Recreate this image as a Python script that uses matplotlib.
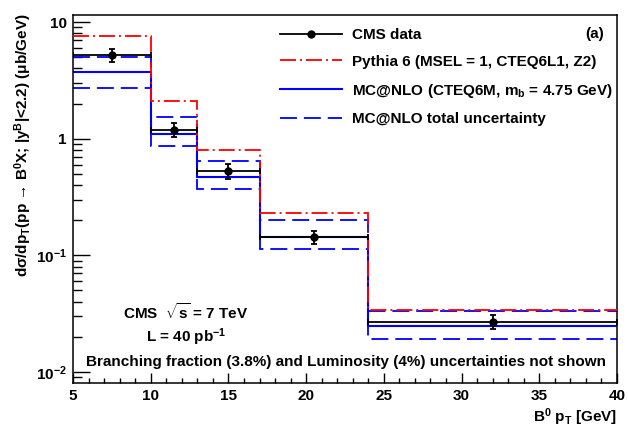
import matplotlib
matplotlib.use("Agg")
import matplotlib.pyplot as plt
from matplotlib.lines import Line2D
import numpy as np

# B0 pT bins and cross sections (micro-barn / GeV)
bin_edges = [5, 10, 13, 17, 24, 40]
pt_points = [7.5, 11.5, 15, 20.5, 32]
cms_data = [5.2, 1.19, 0.53, 0.144, 0.027]
cms_err = [0.7, 0.16, 0.075, 0.019, 0.0038]
pythia6 = [7.6, 2.1, 0.80, 0.232, 0.0343]
mcnlo = [3.73, 1.10, 0.472, 0.143, 0.0250]
mcnlo_up = [5.0, 1.52, 0.648, 0.201, 0.0336]
mcnlo_down = [2.70, 0.866, 0.371, 0.1135, 0.0191]

plt.rcParams['font.family'] = ['Liberation Sans', 'DejaVu Sans']
plt.rcParams['font.weight'] = 'bold'
plt.rcParams['mathtext.fontset'] = 'custom'
plt.rcParams['mathtext.rm'] = 'Liberation Sans:bold'
plt.rcParams['mathtext.it'] = 'Liberation Sans:bold'
plt.rcParams['mathtext.bf'] = 'Liberation Sans:bold'
plt.rcParams['mathtext.sf'] = 'Liberation Sans:bold'
plt.rcParams['mathtext.default'] = 'rm'
plt.rcParams['lines.scale_dashes'] = False

FS = 11
W, H = 628, 429
fig = plt.figure(figsize=(W / 100, H / 100), dpi=100)
L, R, T, B = 73, 617, 14.7, 383
ax = fig.add_axes([L / W, 1 - B / H, (R - L) / W, (B - T) / H])

red = (1, 0, 0)
blue = (0, 0, 1)
dashdot = (0, (11.5, 2.9, 1.4, 2.9))
dashed = (0, (12.2, 5.0))

edges = np.array(bin_edges, dtype=float)
ax.stairs(pythia6, edges, baseline=None, color=red, lw=1.3, linestyle=dashdot, zorder=3)
ax.stairs(mcnlo_up, edges, baseline=None, color=blue, lw=1.3, linestyle=dashed, zorder=2)
ax.stairs(mcnlo_down, edges, baseline=None, color=blue, lw=1.3, linestyle=dashed, zorder=2)
ax.stairs(mcnlo, edges, baseline=None, color=blue, lw=1.5, zorder=2)

x = np.array(pt_points)
xerr = np.vstack([x - edges[:-1], edges[1:] - x])
ax.errorbar(x, cms_data, yerr=cms_err, xerr=xerr, fmt='o', color='black',
            ms=5, lw=1.3, elinewidth=1.3, capsize=2, capthick=1.3, zorder=5)

ax.set_yscale('log')
ax.set_xlim(5, 40)
ax.set_ylim(0.00805, 11.55)

ax.set_yticks([0.01, 0.1, 1, 10])
ax.set_yticklabels([r'10$^{-2}$', r'10$^{-1}$', '1', '10'])
ax.set_xticks([5, 10, 15, 20, 25, 30, 35, 40])
ax.set_xticks(np.arange(5, 41, 1), minor=True)
ax.tick_params(axis='both', which='both', direction='in', top=False, right=False,
               labelsize=FS, width=1.0)
ax.tick_params(axis='y', which='major', length=12.5, pad=4.5)
ax.tick_params(axis='y', which='minor', length=6.5)
ax.tick_params(axis='x', which='major', length=7, pad=4.5)
ax.tick_params(axis='x', which='minor', length=3.5)
for s in ax.spines.values():
    s.set_linewidth(1.1)

fig.text(R / W, 1 - 417 / H, r'B$^{0}$ p$_{T}$ [GeV]', ha='right', va='center', fontsize=FS)
fig.text(23 / W, 1 - 13 / H,
         r'd$\sigma$/dp$_{T}$(pp → B$^{0}$X; |y$^{B}$|<2.2) ($\mu$b/GeV)',
         rotation=90, ha='center', va='top', fontsize=FS)

def axfrac(px, py):
    return (px - L) / (R - L), (B - py) / (B - T)

ax.text(*axfrac(186, 312), r'CMS  $\sqrt{s}$ = 7 TeV', transform=ax.transAxes,
        ha='center', va='center', fontsize=FS)
ax.text(*axfrac(186, 337), r'L = 40 pb$^{-1}$', transform=ax.transAxes,
        ha='center', va='center', fontsize=FS)
ax.text(*axfrac(346, 362), 'Branching fraction (3.8%) and Luminosity (4%) uncertainties not shown',
        transform=ax.transAxes, ha='center', va='center', fontsize=FS)
ax.text(*axfrac(604, 34), '(a)', transform=ax.transAxes, ha='right', va='center', fontsize=FS)

handles = [
    Line2D([], [], color='black', lw=1.3, marker='o', ms=5),
    Line2D([], [], color=red, lw=1.3, linestyle=dashdot),
    Line2D([], [], color=blue, lw=1.5),
    Line2D([], [], color=blue, lw=1.3, linestyle=dashed),
]
labels = [
    'CMS data',
    'Pythia 6 (MSEL = 1, CTEQ6L1, Z2)',
    r'MC@NLO (CTEQ6M, m$_{b}$ = 4.75 GeV)',
    'MC@NLO total uncertainty',
]
leg = fig.legend(handles, labels, loc='upper left', bbox_to_anchor=(280 / W, 1 - 28 / H),
                 frameon=False, fontsize=FS, handlelength=4.05, handletextpad=0.65,
                 labelspacing=0.84, borderpad=0, borderaxespad=0, numpoints=1)

fig.savefig('out.png', dpi=100)
